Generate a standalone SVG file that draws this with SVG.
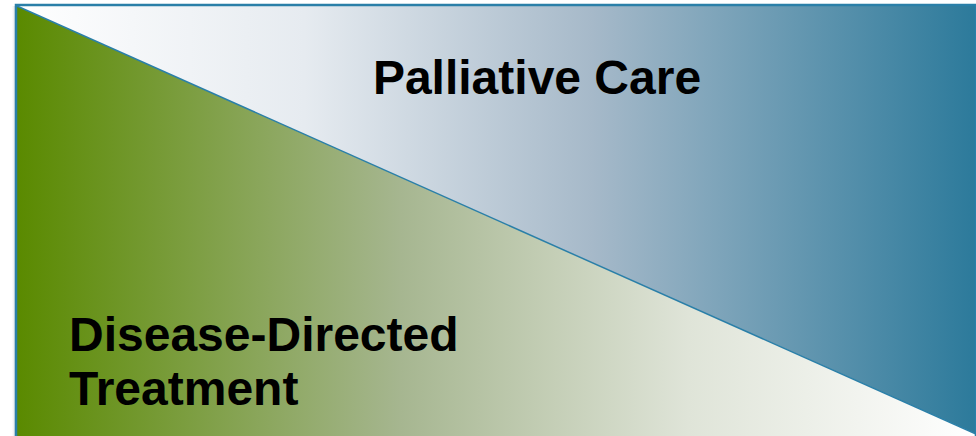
<svg xmlns="http://www.w3.org/2000/svg" width="976" height="436" viewBox="0 0 976 436">
  <style>
    .lbl { font-family: "Liberation Sans", Arial, sans-serif; font-weight: bold; font-size: 48px; fill: #000; }
  </style>
  <defs>
    <linearGradient id="gTop" x1="17" y1="0" x2="976" y2="0" gradientUnits="userSpaceOnUse">
      <stop offset="0" stop-color="#ffffff"/>
      <stop offset="0.3" stop-color="#e6ebf0"/>
      <stop offset="0.6" stop-color="#a6b9c9"/>
      <stop offset="1" stop-color="#2c7a9b"/>
    </linearGradient>
    <linearGradient id="gBot" x1="17" y1="0" x2="976" y2="0" gradientUnits="userSpaceOnUse">
      <stop offset="0" stop-color="#5a8a00"/>
      <stop offset="0.4" stop-color="#a6b690"/>
      <stop offset="0.7" stop-color="#dfe4d8"/>
      <stop offset="1" stop-color="#ffffff"/>
    </linearGradient>
    <linearGradient id="shadow" x1="0" y1="0" x2="1" y2="0">
      <stop offset="0" stop-color="#ffffff" stop-opacity="0"/>
      <stop offset="1" stop-color="#9aa6b0" stop-opacity="0.6"/>
    </linearGradient>
  </defs>
  <rect x="0" y="0" width="976" height="436" fill="#ffffff"/>
  <rect x="11" y="6" width="5" height="430" fill="url(#shadow)"/>
  <g id="palliative-care">
    <polygon points="17,6 976,6 976,434" fill="url(#gTop)"/>
    <text class="lbl" x="537" y="94" text-anchor="middle">Palliative Care</text>
  </g>
  <g id="disease-directed-treatment">
    <polygon points="17,6 976,434 976,436 17,436" fill="url(#gBot)"/>
    <text class="lbl" x="69" y="351">Disease-Directed</text>
    <text class="lbl" x="69" y="405">Treatment</text>
  </g>
  <g id="connectors" fill="none" stroke="#2a7fa8" stroke-width="2">
    <line x1="17" y1="6" x2="976" y2="434" stroke-width="1.5"/>
    <polyline points="16,436 16,5 976,5 976,436" stroke-width="2.5"/>
  </g>
</svg>
